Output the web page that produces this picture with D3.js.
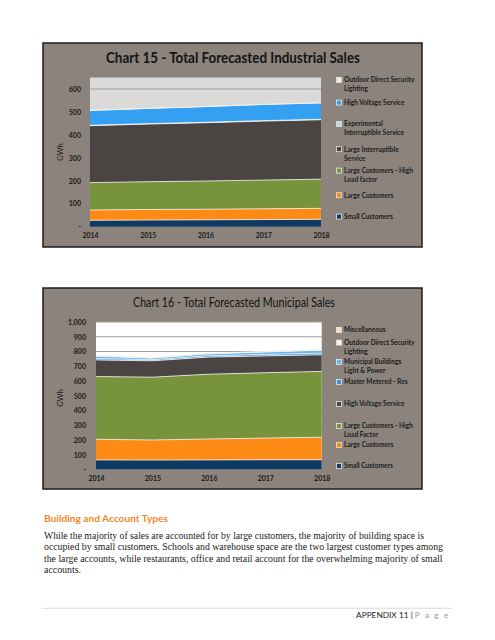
<!DOCTYPE html>
<html><head><meta charset="utf-8">
<script src="https://cdn.jsdelivr.net/npm/d3@7/dist/d3.min.js"></script>
<style>body{margin:0;background:#fff}svg{display:block}</style>
</head><body>
<svg id="page" width="495" height="640"></svg>
<script>
// ---------- DATA ----------
const years = [2014, 2015, 2016, 2017, 2018];

// Chart 15 - Total Forecasted Industrial Sales (GWh), stacked bottom -> top
const indSeries = ["Small Customers", "Large Customers", "Large Customers - High Load factor",
  "Large Interruptible Service", "Experimental Interruptible Service", "High Voltage Service",
  "Outdoor Direct Security Lighting"];
const indSmall = [28, 29, 30, 31, 32];
const indLarge = [45, 46, 46, 47, 48];
const indHighLoad = [119, 121, 123, 125, 127];
const indLargeInterruptible = [248, 251, 254, 257, 259];
const indExperimental = [2, 2, 2, 2, 2];
const indHighVoltage = [64, 66, 68, 70, 71];
const indOutdoor = [1, 1, 1, 1, 1];
const indTicks = [0, 100, 200, 300, 400, 500, 600];

// Chart 16 - Total Forecasted Municipal Sales (GWh), stacked bottom -> top
const munSeries = ["Small Customers", "Large Customers", "Large Customers - High Load Factor",
  "High Voltage Service", "Master Metered - Res", "Municipal Buildings Light & Power",
  "Outdoor Direct Security Lighting", "Miscellaneous"];
const munSmall = [65, 64, 65, 66, 66];
const munLarge = [140, 136, 142, 147, 153];
const munHighLoad = [425, 426, 439, 443, 446];
const munHighVoltage = [113, 111, 116, 114, 113];
const munMasterMetered = [9, 7, 9, 10, 11];
const munBuildings = [16, 11, 13, 16, 20];
const munOutdoor = [3, 3, 3, 3, 3];
const munMisc = [1, 1, 1, 1, 1];
const munTicks = [0, 100, 200, 300, 400, 500, 600, 700, 800, 900, 1000];

// Legend labels (top -> bottom as shown), line-broken
const indLegend = [["Outdoor Direct Security", "Lighting"], ["High Voltage Service"],
  ["Experimental", "Interruptible Service"], ["Large Interruptible", "Service"],
  ["Large Customers - High", "Load factor"], ["Large Customers"], ["Small Customers"]];
const munLegend = [["Miscellaneous"], ["Outdoor Direct Security", "Lighting"],
  ["Municipal Buildings", "Light & Power"], ["Master Metered - Res"], ["High Voltage Service"],
  ["Large Customers - High", "Load Factor"], ["Large Customers"], ["Small Customers"]];

const paragraph = [
  "While the majority of sales are accounted for by large customers, the majority of building space is",
  "occupied by small customers. Schools and warehouse space are the two largest customer types among",
  "the large accounts, while restaurants, office and retail account for the overwhelming majority of small",
  "accounts."];

// ---------- STYLE ----------
const FONT = "Lato, 'Open Sans', sans-serif";
const frameFill = "#8b837c";
const indColors = ["#0f3961", "#fd8a15", "#77933c", "#4a4542", "#b7dde8", "#33a0f2", "#e8e8e8"];
const munColors = ["#0f3961", "#fd8a15", "#77933c", "#4a4542", "#3a93dc", "#63b6f0", "#f4f4f4", "#fbd9bf"];

const svg = d3.select("#page");

function drawChart(cfg) {
  const g = svg.append("g");
  g.append("rect").attr("x", cfg.frame[0]).attr("y", cfg.frame[1])
    .attr("width", cfg.frame[2] - cfg.frame[0]).attr("height", cfg.frame[3] - cfg.frame[1])
    .attr("fill", frameFill).attr("stroke", "#1c1c1c").attr("stroke-width", 1.5);

  const x = d3.scaleLinear().domain([years[0], years[years.length - 1]]).range([cfg.plot[0], cfg.plot[2]]);
  const y = d3.scaleLinear().domain([0, cfg.ymax]).range([cfg.plot[3], cfg.plot[1]]);

  g.append("rect").attr("x", cfg.plot[0]).attr("y", y(cfg.ymax))
    .attr("width", cfg.plot[2] - cfg.plot[0]).attr("height", y(0) - y(cfg.ymax))
    .attr("fill", cfg.plotBg);

  // gridlines
  g.selectAll(".grid").data(cfg.ticks.filter(d => d > 0)).join("line")
    .attr("x1", cfg.plot[0]).attr("x2", cfg.plot[2])
    .attr("y1", d => y(d)).attr("y2", d => y(d))
    .attr("stroke", "#9d9d9d").attr("stroke-width", 1);

  const rows = years.map((yr, i) => {
    const r = { year: yr };
    cfg.series.forEach((s, k) => r[s] = cfg.values[k][i]);
    return r;
  });
  const stacked = d3.stack().keys(cfg.series)(rows);
  const area = d3.area().x(d => x(d.data.year)).y0(d => y(d[0])).y1(d => y(d[1]));
  const line = d3.line().x(d => x(d.data.year)).y(d => y(d[1]));

  g.selectAll(".band").data(stacked).join("path")
    .attr("d", area).attr("fill", (d, i) => cfg.colors[i]);
  g.selectAll(".edge").data(stacked).join("path")
    .attr("d", line).attr("fill", "none").attr("stroke", "#f4f2ee")
    .attr("stroke-width", 0.9).attr("opacity", 0.9);

  // y axis
  const ya = g.append("g").attr("transform", `translate(${cfg.plot[0]},0)`)
    .call(d3.axisLeft(y).tickValues(cfg.ticks).tickSize(0).tickPadding(cfg.yPad)
      .tickFormat(d => d === 0 ? "-" : d3.format(",")(d)));
  ya.select(".domain").remove();
  ya.selectAll("text").attr("font-family", FONT).attr("font-size", 7).attr("font-weight", "bold").attr("fill", "#1a1a1a");

  // x axis
  const xa = g.append("g").attr("transform", `translate(0,${cfg.plot[3]})`)
    .call(d3.axisBottom(x).tickValues(years).tickSize(0).tickPadding(cfg.xPad).tickFormat(d3.format("d")));
  xa.select(".domain").remove();
  xa.selectAll("text").attr("font-family", FONT).attr("font-size", 7).attr("font-weight", "bold").attr("fill", "#1a1a1a");

  // GWh label
  g.append("text").attr("transform", `translate(${cfg.gwh[0]},${cfg.gwh[1]}) rotate(-90)`)
    .attr("text-anchor", "middle").attr("dy", "0.35em")
    .attr("font-family", FONT).attr("font-size", 7.5).attr("fill", "#1a1a1a").text("GWh");

  // title
  g.append("text").attr("x", cfg.title.x).attr("y", cfg.title.y).attr("text-anchor", "middle")
    .attr("font-family", FONT).attr("font-size", cfg.title.size).attr("font-weight", cfg.title.weight)
    .attr("fill", "#141414").attr("textLength", cfg.title.len).attr("lengthAdjust", "spacingAndGlyphs")
    .text(cfg.title.text);

  // legend (top entry = top series)
  const legendColors = cfg.colors.slice().reverse();
  cfg.legend.forEach((lines, i) => {
    const ly = cfg.legendY[i];
    g.append("rect").attr("x", 336.5).attr("y", ly - 2.6).attr("width", 5).attr("height", 5)
      .attr("fill", legendColors[i]).attr("stroke", "#e9e6e2").attr("stroke-width", 0.8);
    lines.forEach((t, j) => {
      g.append("text").attr("x", 344).attr("y", ly + j * 9).attr("dy", "0.35em")
        .attr("font-family", FONT).attr("font-size", 6.6).attr("font-weight", "bold")
        .attr("fill", "#1c1c1c").text(t);
    });
  });
}

drawChart({
  frame: [43, 43, 422, 247], plot: [90, 77.5, 321, 226.7], ymax: 650, ticks: indTicks,
  plotBg: "#dcdad8", series: indSeries,
  values: [indSmall, indLarge, indHighLoad, indLargeInterruptible, indExperimental, indHighVoltage, indOutdoor],
  colors: indColors, yPad: 9, xPad: 6, gwh: [60, 152],
  title: { text: "Chart 15 - Total Forecasted Industrial Sales", x: 233, y: 63.3, size: 14.5, weight: "bold", len: 254 },
  legend: indLegend, legendY: [80, 102.7, 124, 149.3, 170.7, 195.3, 216.7]
});

drawChart({
  frame: [43, 288, 422, 489], plot: [96, 322, 321.7, 469.5], ymax: 1000, ticks: munTicks,
  plotBg: "#ffffff", series: munSeries,
  values: [munSmall, munLarge, munHighLoad, munHighVoltage, munMasterMetered, munBuildings, munOutdoor, munMisc],
  colors: munColors, yPad: 10, xPad: 7, gwh: [60, 398],
  title: { text: "Chart 16 - Total Forecasted Municipal Sales", x: 234, y: 306.7, size: 12.5, weight: "normal", len: 202 },
  legend: munLegend, legendY: [330, 342.7, 362, 382, 404, 426, 445, 466]
});

// ---------- Text below ----------
svg.append("text").attr("x", 44).attr("y", 521.5).attr("font-family", FONT)
  .attr("font-size", 9.8).attr("font-weight", "bold").attr("fill", "#f0892c")
  .attr("textLength", 124).attr("lengthAdjust", "spacingAndGlyphs").text("Building and Account Types");

const lineEnds = [424, 443, 442.5, 81];
paragraph.forEach((t, i) => {
  svg.append("text").attr("x", 44).attr("y", 538.5 + i * 11.6)
    .attr("font-family", "'Liberation Serif', 'DejaVu Serif', serif").attr("font-size", 10.2)
    .attr("fill", "#1a1a1a").attr("textLength", lineEnds[i] - 44).attr("lengthAdjust", "spacingAndGlyphs")
    .text(t);
});

svg.append("line").attr("x1", 42).attr("x2", 452).attr("y1", 608.3).attr("y2", 608.3)
  .attr("stroke", "#d4d4d4").attr("stroke-width", 0.8);
const foot = svg.append("text").attr("x", 450).attr("y", 617.5).attr("text-anchor", "end")
  .attr("font-family", FONT).attr("font-size", 8.3);
foot.append("tspan").attr("fill", "#1a1a1a").text("APPENDIX 11 | ");
foot.append("tspan").attr("fill", "#9a9a9a").attr("letter-spacing", 1.6).text("P a g e");
</script>
</body></html>
